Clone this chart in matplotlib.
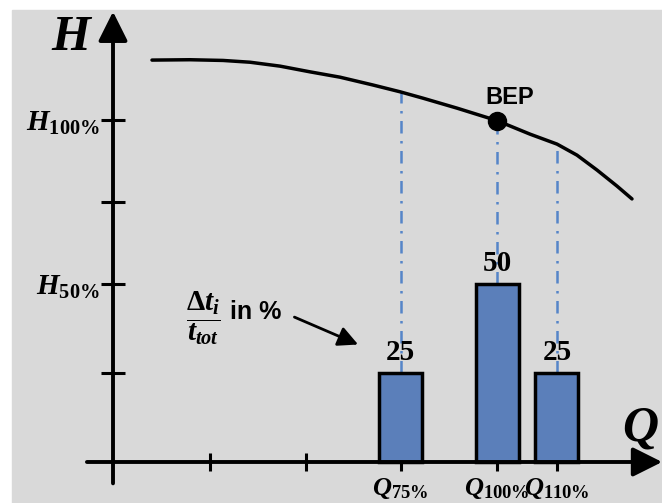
import matplotlib
matplotlib.use("Agg")
import matplotlib.pyplot as plt
from matplotlib.patches import Rectangle

# pump curve (Q in tick units, H in % of bar scale)
curve_q = [0.404, 0.798, 1.140, 1.420, 1.731, 2.041, 2.352, 2.694, 2.974, 3.212,
           3.565, 3.979, 4.321, 4.601, 4.808, 5.016, 5.223, 5.378]
curve_h = [112.9, 113.0, 112.8, 112.3, 111.2, 109.6, 108.1, 105.9, 104.0, 102.2,
           99.4, 95.9, 92.1, 89.3, 86.2, 82.0, 77.5, 73.9]

# operating points
q_pos = [2.98, 3.98, 4.60]
q_labels = [r'$Q_{75\%}$', r'$Q_{100\%}$', r'$Q_{110\%}$']
h_on_curve = [104.0, 95.9, 89.3]
time_share = [25, 50, 25]

bep_q = 3.98
bep_h = 95.9

y_ticks = [25, 50, 73, 96]
y_labels = ['', r'$H_{50\%}$', '', r'$H_{100\%}$']
x_ticks = [1, 2] + q_pos

plt.rcParams['mathtext.fontset'] = 'custom'
plt.rcParams['mathtext.rm'] = 'Liberation Serif:bold'
plt.rcParams['mathtext.it'] = 'Liberation Serif:italic:bold'
plt.rcParams['mathtext.bf'] = 'Liberation Serif:bold'

fig = plt.figure(figsize=(6.62, 5.03), dpi=100)
fig.patches.append(Rectangle((12 / 662, 0), 1, (503 - 10) / 503,
                             transform=fig.transFigure, color='#d9d9d9', zorder=-5))

ax = fig.add_axes([0, 0, 1, 1])
ax.set_zorder(2)
ax.patch.set_visible(False)
ax.set_xlim(-1.171, 5.689)
ax.set_ylim(-11.52, 129.78)
for s in ax.spines.values():
    s.set_visible(False)
ax.spines['left'].set_position(('data', 0))
ax.spines['bottom'].set_position(('data', 0))

# axes with arrow heads
arrow = dict(arrowstyle='-|>,head_length=0.9,head_width=0.45', lw=2.8, color='black',
             shrinkA=0, shrinkB=0, mutation_scale=20)
ax.annotate('', xy=(0, 126.5), xytext=(0, -6), arrowprops=arrow, zorder=5)
ax.annotate('', xy=(5.69, 0), xytext=(-0.27, 0), arrowprops=arrow, zorder=5)

ax.set_yticks(y_ticks)
ax.set_yticklabels(y_labels, fontsize=21)
ax.set_xticks(x_ticks)
ax.set_xticklabels(['', ''] + q_labels, fontsize=19)
ax.tick_params(axis='y', direction='inout', length=17, width=2.2, pad=1)
ax.tick_params(axis='x', direction='inout', length=13, width=2.2, pad=3)

# bars of time share
ax.bar(q_pos, time_share, width=0.445, color='#5b7fba', edgecolor='black',
       linewidth=2.5, zorder=3)
for q, v in zip(q_pos, time_share):
    ax.text(q, v + 2.0, str(v), ha='center', va='bottom', fontsize=21,
            family='Liberation Serif', fontweight='bold', zorder=6)

# dash-dot guides from curve to bars
for q, h, v in zip(q_pos, h_on_curve, time_share):
    ax.plot([q, q], [v, h], color='#5585c8', lw=1.8, ls=(0, (5, 3, 1, 3)), zorder=2)

# pump curve and BEP
ax.plot(curve_q, curve_h, color='black', lw=2.5, zorder=4,
        solid_capstyle='round', solid_joinstyle='round')
ax.plot(bep_q, bep_h, 'o', color='black', markersize=13, zorder=5)
ax.text(4.11, 102.5, 'BEP', ha='center', va='center', fontsize=17,
        family='Liberation Sans', fontweight='bold')

# axis names
ax.text(-0.425, 119.7, r'$H$', ha='center', va='center', fontsize=36)
ax.text(5.46, 9.8, r'$Q$', ha='center', va='center', fontsize=36)

# annotation for the bars
ax.text(0.76, 40.4, r'$\dfrac{\Delta t_i}{t_{tot}}$', ha='left', va='center', fontsize=21)
ax.text(1.21, 42.1, 'in %', ha='left', va='center', fontsize=18,
        family='Liberation Sans', fontweight='bold')
ax.annotate('', xy=(2.54, 33.0), xytext=(1.88, 40.7),
            arrowprops=dict(arrowstyle='-|>,head_length=0.6,head_width=0.3', lw=2,
                            color='black', shrinkA=0, shrinkB=0, mutation_scale=20))

fig.savefig('out.png', dpi=100)
